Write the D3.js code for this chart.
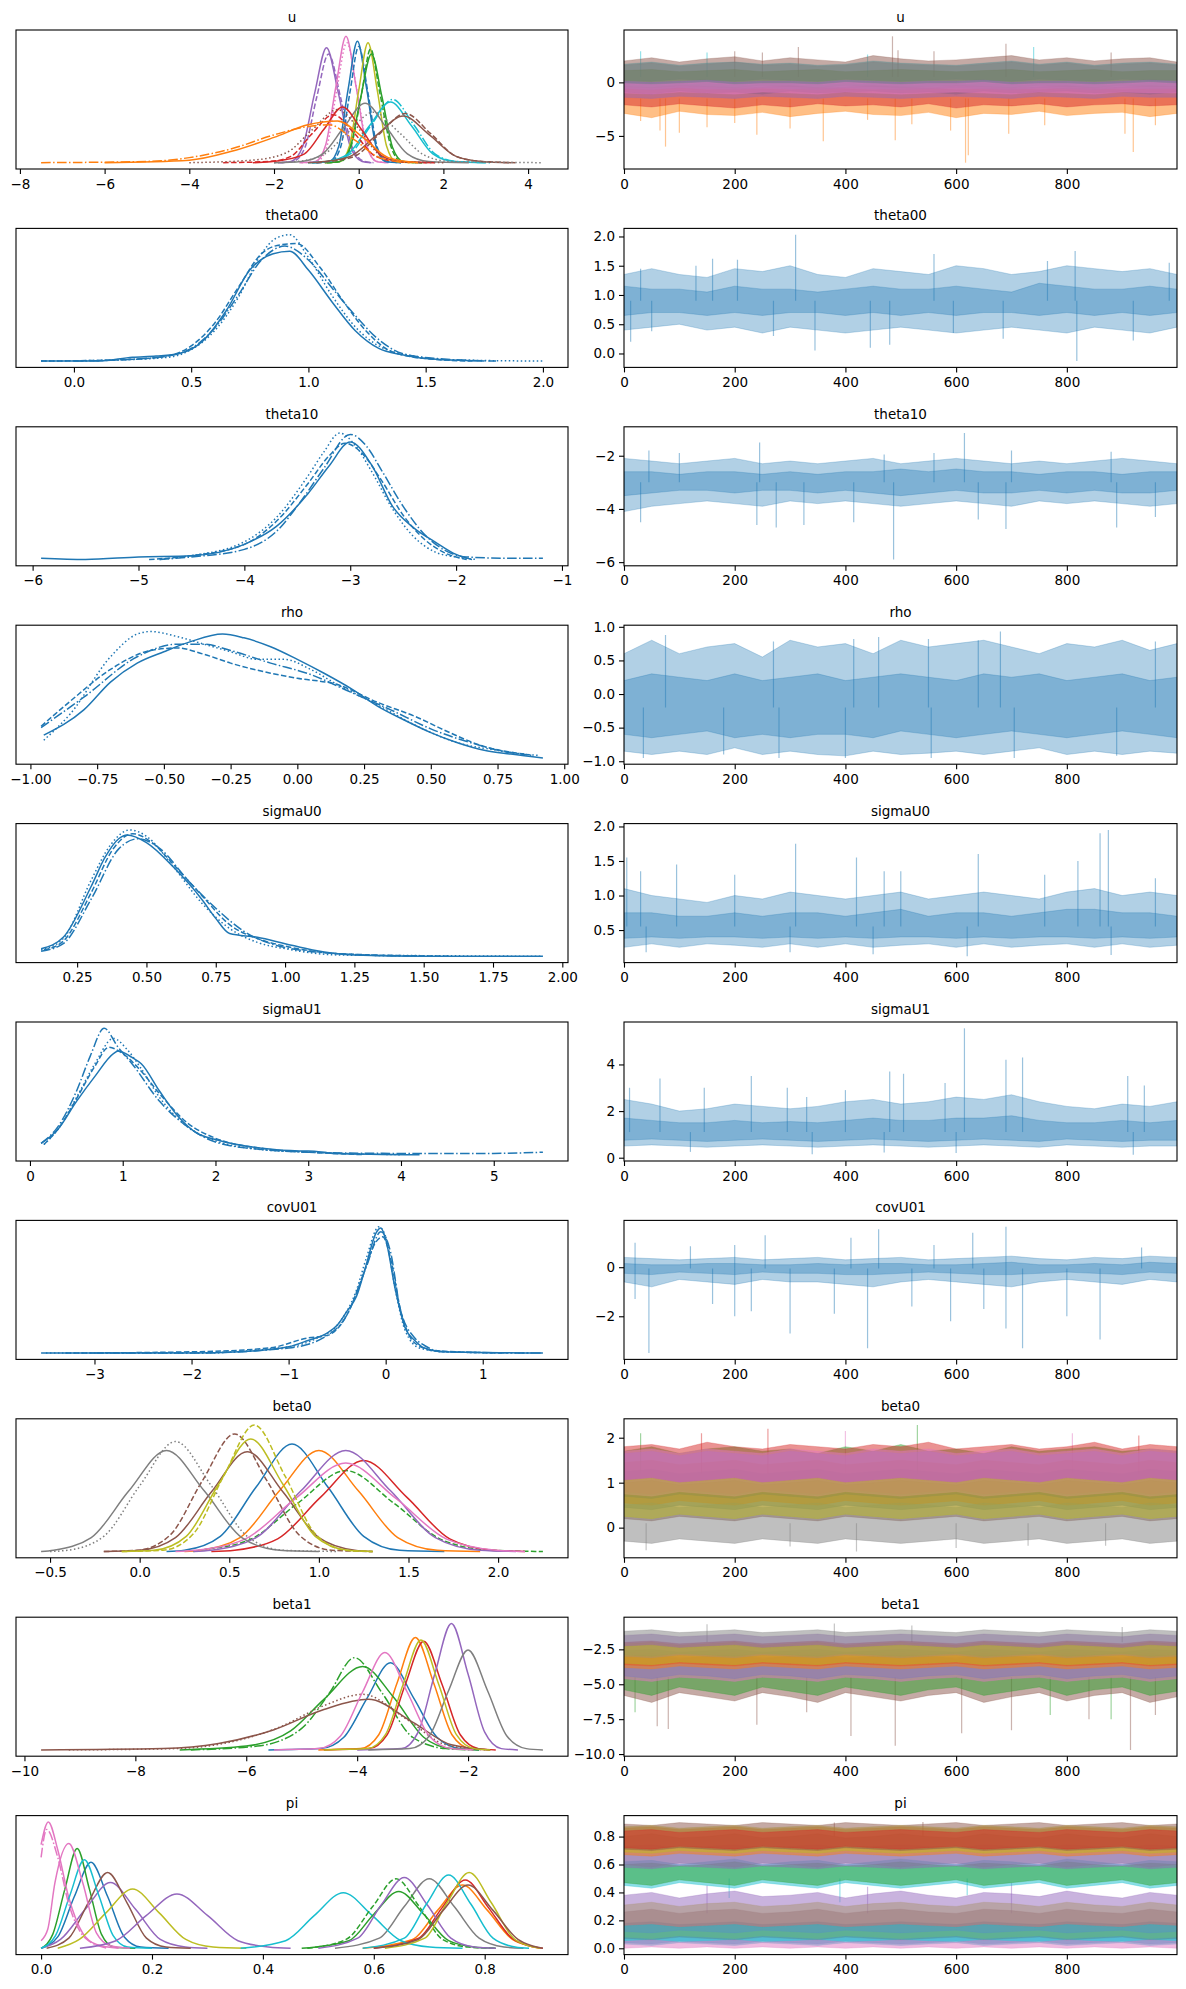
<!DOCTYPE html>
<html>
<head>
<meta charset="utf-8">
<script src="https://cdn.jsdelivr.net/npm/d3@7"></script>
<style>
body { margin: 0; background: #fff; }
text { font-family: "DejaVu Sans", sans-serif; font-size: 13.5px; fill: #000; }
</style>
</head>
<body>
<svg id="fig" width="1186" height="1989"></svg>
<script>
// matplotlib tab10 colours, arviz cycles through these
const tab10 = ["#1f77b4","#ff7f0e","#2ca02c","#d62728","#9467bd","#8c564b","#e377c2","#7f7f7f","#bcbd22","#17becf"];
const varNames = ["u","theta00","theta10","rho","sigmaU0","sigmaU1","covU01","beta0","beta1","pi"];

const draws = [0,50,100,150,200,250,300,350,400,450,500,550,600,650,700,750,800,850,900,950,999];

// ---- KDE curves: [colour, chain(linestyle), xs, density (relative)] ----
const kdeU = [
  [4,0,[-1.9,-1.6,-1.32,-1.04,-0.76,-0.48,-0.2,0.08,0.3],[0,0.01,0.13,0.55,0.91,0.55,0.13,0.01,0]],
  [4,1,[-1.85,-1.55,-1.27,-0.99,-0.71,-0.43,-0.15,0.13,0.35],[0,0.01,0.12,0.52,0.86,0.52,0.12,0.01,0]],
  [6,0,[-1.4,-1.02,-0.78,-0.54,-0.3,-0.06,0.18,0.42,0.7],[0,0.01,0.14,0.6,1,0.6,0.14,0.01,0]],
  [6,2,[-1.35,-0.98,-0.75,-0.52,-0.28,-0.04,0.2,0.44,0.7],[0,0.01,0.13,0.57,0.95,0.57,0.13,0.01,0]],
  [0,0,[-1.1,-0.69,-0.47,-0.25,-0.03,0.19,0.41,0.63,1.0],[0,0.01,0.13,0.58,0.96,0.58,0.13,0.01,0]],
  [0,1,[-1.0,-0.65,-0.43,-0.21,0.0,0.22,0.44,0.66,1.0],[0,0.01,0.12,0.55,0.92,0.55,0.12,0.01,0]],
  [8,0,[-0.8,-0.44,-0.22,0,0.22,0.44,0.66,0.88,1.3],[0,0.01,0.13,0.57,0.95,0.57,0.13,0.01,0]],
  [2,0,[-0.8,-0.45,-0.2,0.05,0.3,0.55,0.8,1.05,1.5],[0,0.01,0.12,0.52,0.86,0.52,0.12,0.01,0]],
  [2,1,[-0.75,-0.42,-0.18,0.07,0.28,0.5,0.76,1.0,1.5],[0,0.01,0.13,0.55,0.9,0.55,0.13,0.01,0]],
  [9,0,[-1.2,-0.75,-0.25,0.25,0.75,1.25,1.75,2.25,3.0],[0,0.01,0.07,0.29,0.48,0.29,0.07,0.01,0]],
  [9,3,[-1.1,-0.7,-0.2,0.3,0.8,1.3,1.8,2.3,3.1],[0,0.01,0.07,0.3,0.5,0.3,0.07,0.01,0]],
  [5,0,[-1.2,-0.8,-0.2,0.43,1.05,1.67,2.3,2.9,3.6],[0,0.01,0.05,0.22,0.37,0.22,0.05,0.01,0]],
  [5,1,[-1.0,-0.7,-0.1,0.5,1.1,1.7,2.3,2.9,3.7],[0,0.01,0.05,0.23,0.39,0.23,0.05,0.01,0]],
  [7,0,[-2,-1.35,-0.85,-0.35,0.15,0.65,1.15,1.65,2.6],[0,0.01,0.07,0.28,0.47,0.28,0.07,0.01,0]],
  [7,2,[-2,-1.45,-0.85,-0.25,0.35,0.95,1.55,2.15,4.35],[0,0.01,0.06,0.24,0.4,0.24,0.06,0.01,0]],
  [3,0,[-2.5,-1.8,-1.28,-0.83,-0.38,0.07,0.52,0.97,1.8],[0,0.02,0.07,0.26,0.44,0.26,0.06,0.01,0]],
  [3,1,[-3.2,-2.1,-1.6,-1.1,-0.6,-0.1,0.4,0.9,1.6],[0,0.01,0.05,0.23,0.38,0.23,0.05,0.01,0]],
  [5,2,[-4,-2.5,-1.7,-1.1,-0.5,0.0,0.5,1.0,2.0],[0,0.02,0.08,0.26,0.42,0.27,0.06,0.01,0]],
  [1,3,[-7.5,-5,-4,-3,-2,-1.3,-0.7,-0.1,0.5,1.2],[0,0.01,0.04,0.11,0.22,0.28,0.3,0.18,0.04,0]],
  [1,0,[-6,-4,-3,-2,-1.2,-0.5,0.1,0.7,1.4],[0,0.02,0.09,0.2,0.3,0.33,0.2,0.04,0]]
];
const kdeTheta00 = [
  [0,0,[-0.14,0.1,0.25,0.35,0.45,0.55,0.65,0.75,0.85,0.92,1.0,1.1,1.2,1.3,1.4,1.5,1.75],[0,0,0.03,0.04,0.06,0.16,0.4,0.72,0.85,0.87,0.72,0.47,0.24,0.1,0.05,0.02,0]],
  [0,1,[-0.14,0.2,0.4,0.5,0.6,0.7,0.8,0.88,0.95,1.05,1.15,1.25,1.35,1.5,1.7],[0,0.01,0.04,0.12,0.3,0.58,0.85,0.92,0.93,0.74,0.47,0.23,0.08,0.02,0]],
  [0,2,[-0.14,0.2,0.4,0.5,0.6,0.7,0.8,0.86,0.92,1.0,1.1,1.2,1.3,1.45,1.6,2.0],[0,0.01,0.03,0.09,0.24,0.5,0.85,0.97,1.0,0.82,0.52,0.27,0.12,0.04,0.01,0]],
  [0,3,[0.0,0.2,0.4,0.5,0.6,0.7,0.8,0.9,1.0,1.1,1.2,1.3,1.4,1.55,1.8],[0,0.01,0.04,0.1,0.26,0.52,0.8,0.91,0.8,0.58,0.36,0.17,0.06,0.02,0]]
];
const kdeTheta10 = [
  [0,0,[-5.92,-5.5,-5.0,-4.5,-4.0,-3.7,-3.4,-3.2,-3.0,-2.8,-2.6,-2.4,-2.2,-2.0,-1.85],[0.01,0,0.02,0.03,0.12,0.26,0.52,0.74,0.93,0.75,0.42,0.25,0.14,0.04,0]],
  [0,1,[-4.9,-4.5,-4.0,-3.7,-3.4,-3.2,-3.05,-2.9,-2.7,-2.5,-2.3,-2.1,-1.9],[0,0.03,0.12,0.3,0.6,0.82,0.92,0.85,0.62,0.35,0.16,0.05,0]],
  [0,2,[-4.8,-4.5,-4.0,-3.7,-3.4,-3.25,-3.1,-2.95,-2.8,-2.6,-2.4,-2.2,-2.0,-1.8],[0,0.03,0.14,0.33,0.66,0.85,1.0,0.9,0.7,0.4,0.18,0.06,0.02,0]],
  [0,3,[-4.8,-4.5,-4.0,-3.7,-3.45,-3.25,-3.0,-2.85,-2.7,-2.5,-2.3,-2.1,-1.9,-1.5,-1.18],[0,0.02,0.08,0.22,0.48,0.72,0.99,0.9,0.7,0.42,0.2,0.07,0.02,0.01,0.01]]
];
const kdeRho = [
  [0,0,[-0.95,-0.8,-0.7,-0.6,-0.5,-0.4,-0.28,-0.2,-0.1,0.0,0.1,0.2,0.3,0.4,0.5,0.6,0.7,0.8,0.92],[0.18,0.38,0.6,0.75,0.84,0.92,0.98,0.95,0.88,0.78,0.67,0.55,0.41,0.3,0.2,0.12,0.06,0.03,0]],
  [0,1,[-0.96,-0.85,-0.7,-0.55,-0.45,-0.35,-0.25,-0.1,0.0,0.15,0.3,0.45,0.55,0.7,0.85],[0.25,0.45,0.7,0.85,0.87,0.82,0.75,0.67,0.63,0.58,0.44,0.32,0.22,0.09,0.03]],
  [0,2,[-0.95,-0.85,-0.7,-0.6,-0.55,-0.45,-0.35,-0.25,-0.15,-0.05,0.05,0.15,0.3,0.45,0.6,0.75,0.88],[0.14,0.35,0.8,0.98,1.0,0.96,0.9,0.84,0.78,0.78,0.7,0.58,0.42,0.25,0.12,0.06,0.02]],
  [0,3,[-0.96,-0.8,-0.6,-0.45,-0.35,-0.25,-0.1,0.05,0.2,0.35,0.5,0.65,0.8,0.9],[0.24,0.48,0.8,0.9,0.9,0.85,0.75,0.66,0.52,0.38,0.23,0.12,0.04,0.02]]
];
const kdeSigmaU0 = [
  [0,0,[0.12,0.2,0.3,0.35,0.4,0.43,0.5,0.6,0.7,0.75,0.8,0.9,1.0,1.1,1.25,1.5,1.93],[0.06,0.15,0.55,0.78,0.93,0.96,0.9,0.7,0.45,0.3,0.18,0.15,0.1,0.05,0.01,0,0]],
  [0,1,[0.13,0.2,0.3,0.38,0.45,0.52,0.6,0.7,0.8,0.9,1.0,1.2,1.6],[0.05,0.12,0.5,0.85,0.97,0.9,0.72,0.48,0.25,0.14,0.08,0.02,0]],
  [0,2,[0.12,0.2,0.3,0.37,0.44,0.5,0.6,0.7,0.8,0.9,1.0,1.2,1.5,1.93],[0.05,0.14,0.6,0.88,1.0,0.95,0.7,0.42,0.22,0.11,0.06,0.01,0.005,0]],
  [0,3,[0.12,0.2,0.3,0.4,0.47,0.55,0.65,0.75,0.85,1.0,1.2,1.5],[0.04,0.1,0.45,0.85,0.93,0.85,0.6,0.38,0.2,0.07,0.02,0]]
];
const kdeSigmaU1 = [
  [0,0,[0.12,0.3,0.5,0.7,0.9,0.95,1.1,1.2,1.4,1.6,1.8,2.0,2.5,2.9,3.0,3.3,4.2],[0.09,0.2,0.42,0.62,0.8,0.82,0.77,0.72,0.5,0.3,0.17,0.12,0.05,0.03,0.03,0.01,0]],
  [0,1,[0.15,0.3,0.5,0.7,0.85,1.0,1.2,1.4,1.7,2.0,2.5,3.0,3.6],[0.08,0.2,0.44,0.7,0.85,0.8,0.66,0.48,0.25,0.13,0.05,0.02,0]],
  [0,2,[0.15,0.3,0.5,0.7,0.9,1.05,1.2,1.4,1.7,2.0,2.5,3.0,4.0],[0.08,0.2,0.45,0.72,0.92,0.83,0.68,0.45,0.22,0.11,0.04,0.02,0]],
  [0,3,[0.12,0.3,0.5,0.65,0.8,0.95,1.1,1.4,1.7,2.0,2.5,3.0,4.0,5.0,5.53],[0.09,0.22,0.5,0.78,1.0,0.85,0.72,0.42,0.22,0.1,0.04,0.02,0.01,0.01,0.02]]
];
const kdeCovU01 = [
  [0,0,[-3.55,-2,-1.5,-1.0,-0.8,-0.6,-0.5,-0.4,-0.3,-0.2,-0.1,-0.05,0.0,0.1,0.2,0.3,0.4,0.6,1.62],[0,0,0.01,0.05,0.1,0.16,0.22,0.33,0.45,0.7,0.95,0.99,0.9,0.5,0.2,0.1,0.04,0.01,0]],
  [0,1,[-3.3,-2,-1.2,-0.8,-0.6,-0.4,-0.25,-0.1,-0.03,0.05,0.15,0.3,0.5,1.2],[0,0.01,0.04,0.12,0.14,0.3,0.58,0.88,0.92,0.75,0.35,0.08,0.02,0]],
  [0,2,[-3.5,-2,-1.0,-0.7,-0.5,-0.3,-0.2,-0.07,0.0,0.1,0.2,0.35,0.6,1.5],[0,0,0.05,0.12,0.22,0.5,0.75,1.0,0.92,0.5,0.18,0.04,0.01,0]],
  [0,3,[-3.0,-2,-1.0,-0.6,-0.4,-0.2,-0.05,0.05,0.15,0.3,0.4,0.6,1.62],[0,0,0.04,0.14,0.3,0.68,0.96,0.8,0.35,0.12,0.06,0.01,0]]
];
const kdeBeta0 = [
  [0,0,[0.15,0.25,0.45,0.65,0.85,1.05,1.25,1.45,1.7],[0,0.01,0.12,0.51,0.85,0.51,0.12,0.01,0]],
  [1,0,[0.25,0.34,0.56,0.78,1.0,1.22,1.44,1.66,1.9],[0,0.01,0.11,0.48,0.8,0.48,0.11,0.01,0]],
  [2,1,[0.3,0.34,0.61,0.88,1.15,1.42,1.69,1.96,2.25],[0,0.01,0.09,0.38,0.64,0.38,0.09,0.01,0]],
  [3,0,[0.4,0.53,0.77,1.01,1.25,1.49,1.73,1.97,2.15],[0,0.01,0.1,0.43,0.72,0.43,0.1,0.01,0]],
  [4,0,[0.3,0.4,0.65,0.9,1.15,1.4,1.65,1.9,2.1],[0,0.01,0.11,0.48,0.8,0.48,0.11,0.01,0]],
  [5,0,[-0.2,0,0.2,0.4,0.6,0.8,1.0,1.2,1.3],[0,0.01,0.11,0.47,0.79,0.47,0.11,0.01,0]],
  [5,1,[-0.2,-0.01,0.17,0.35,0.53,0.71,0.89,1.07,1.3],[0,0.01,0.13,0.56,0.93,0.56,0.13,0.01,0]],
  [6,0,[0.2,0.31,0.59,0.87,1.15,1.43,1.71,1.99,2.15],[0,0.01,0.1,0.42,0.7,0.42,0.1,0.01,0]],
  [7,0,[-0.55,-0.48,-0.27,-0.06,0.15,0.36,0.57,0.78,1.0],[0,0.01,0.11,0.48,0.8,0.48,0.11,0.01,0]],
  [7,2,[-0.5,-0.4,-0.2,0,0.2,0.4,0.6,0.8,1.1],[0,0.01,0.12,0.52,0.87,0.52,0.12,0.01,0]],
  [8,0,[-0.1,0.08,0.26,0.44,0.62,0.8,0.98,1.16,1.3],[0,0.01,0.12,0.53,0.89,0.53,0.12,0.01,0]],
  [8,1,[-0.1,0.13,0.3,0.47,0.64,0.81,0.98,1.15,1.3],[0,0.01,0.14,0.6,1,0.6,0.14,0.01,0]]
];
const kdeBeta1 = [
  [0,0,[-5.6,-4.66,-4.24,-3.82,-3.4,-2.98,-2.56,-2.14,-1.8],[0,0.01,0.1,0.41,0.69,0.41,0.1,0.01,0]],
  [1,0,[-4.7,-3.94,-3.61,-3.28,-2.95,-2.62,-2.29,-1.96,-1.6],[0,0.01,0.12,0.53,0.89,0.53,0.12,0.01,0]],
  [2,0,[-7.2,-6,-5.2,-4.6,-3.9,-3.35,-2.8,-2.3,-1.8],[0,0.03,0.15,0.4,0.66,0.42,0.1,0.01,0]],
  [2,3,[-7.0,-5.8,-5.0,-4.5,-4.05,-3.55,-3.0,-2.4,-1.9],[0,0.03,0.17,0.45,0.73,0.45,0.1,0.01,0]],
  [3,0,[-4.6,-3.79,-3.46,-3.13,-2.8,-2.47,-2.14,-1.81,-1.5],[0,0.01,0.12,0.52,0.86,0.52,0.12,0.01,0]],
  [4,0,[-4,-3.2,-2.9,-2.6,-2.3,-2.0,-1.7,-1.4,-1.1],[0,0.01,0.14,0.6,1,0.6,0.14,0.01,0]],
  [5,0,[-9.7,-7.5,-6.5,-5.5,-4.6,-3.8,-3.0,-2.3,-1.6],[0,0.01,0.05,0.16,0.32,0.4,0.22,0.04,0]],
  [5,2,[-9.2,-7.3,-6.3,-5.4,-4.6,-3.9,-3.1,-2.4,-1.7],[0,0.01,0.06,0.18,0.35,0.44,0.24,0.04,0]],
  [6,0,[-5.5,-4.7,-4.3,-3.9,-3.5,-3.1,-2.7,-2.3,-1.9],[0,0.01,0.11,0.46,0.77,0.46,0.11,0.01,0]],
  [7,0,[-3.8,-3.05,-2.7,-2.35,-2.0,-1.65,-1.3,-0.95,-0.65],[0,0.01,0.11,0.47,0.79,0.47,0.11,0.01,0]],
  [8,0,[-4.6,-3.81,-3.49,-3.17,-2.85,-2.53,-2.21,-1.89,-1.6],[0,0.01,0.12,0.52,0.87,0.52,0.12,0.01,0]]
];
const kdePi = [
  [0,0,[0.0,0.03,0.06,0.09,0.12,0.15,0.18,0.23],[0,0.09,0.41,0.68,0.41,0.09,0.01,0]],
  [1,0,[0.58,0.67,0.715,0.76,0.805,0.85,0.88,0.9],[0,0.07,0.3,0.5,0.3,0.07,0.02,0]],
  [2,0,[0.0,0.021,0.043,0.065,0.087,0.109,0.131,0.17],[0,0.11,0.47,0.79,0.47,0.11,0.01,0]],
  [3,0,[0.6,0.681,0.723,0.765,0.807,0.849,0.88,0.905],[0,0.08,0.32,0.54,0.32,0.08,0.02,0]],
  [4,0,[0.0,0.035,0.08,0.125,0.17,0.215,0.26,0.3],[0,0.07,0.31,0.52,0.31,0.07,0.01,0]],
  [5,0,[0.01,0.05,0.085,0.12,0.155,0.19,0.225,0.27],[0,0.08,0.36,0.6,0.36,0.08,0.01,0]],
  [6,0,[0.0,0.013,0.03,0.05,0.075,0.1,0.14],[0.82,1.0,0.78,0.4,0.12,0.03,0]],
  [7,0,[0.53,0.61,0.655,0.7,0.745,0.79,0.835,0.87],[0,0.08,0.33,0.55,0.33,0.08,0.01,0]],
  [8,0,[0.03,0.069,0.117,0.165,0.213,0.261,0.31,0.37],[0,0.07,0.28,0.47,0.28,0.07,0.01,0]],
  [9,0,[0.0,0.026,0.052,0.078,0.104,0.13,0.156,0.2],[0,0.1,0.42,0.7,0.42,0.1,0.01,0]],
  [6,3,[0.0,0.01,0.03,0.05,0.08,0.12],[0.72,0.94,0.72,0.35,0.08,0]],
  [6,0,[0.0,0.012,0.025,0.05,0.075,0.1,0.125,0.16],[0.06,0.15,0.52,0.83,0.52,0.12,0.02,0]],
  [4,0,[0.07,0.135,0.19,0.245,0.3,0.355,0.41,0.45],[0,0.06,0.26,0.43,0.26,0.06,0.01,0]],
  [9,0,[0.36,0.441,0.493,0.545,0.597,0.649,0.701,0.76],[0,0.06,0.26,0.44,0.26,0.06,0.01,0]],
  [2,0,[0.47,0.555,0.6,0.645,0.69,0.735,0.78,0.82],[0,0.06,0.27,0.45,0.27,0.06,0.01,0]],
  [2,1,[0.48,0.55,0.598,0.64,0.682,0.724,0.77,0.82],[0,0.07,0.33,0.55,0.33,0.07,0.01,0]],
  [4,0,[0.5,0.571,0.613,0.655,0.697,0.739,0.781,0.82],[0,0.08,0.34,0.56,0.34,0.08,0.01,0]],
  [9,0,[0.58,0.655,0.695,0.735,0.775,0.815,0.855,0.88],[0,0.08,0.35,0.58,0.35,0.08,0.01,0]],
  [8,0,[0.62,0.692,0.732,0.772,0.812,0.852,0.88,0.9],[0,0.08,0.36,0.6,0.36,0.08,0.02,0]],
  [5,0,[0.6,0.68,0.725,0.77,0.815,0.86,0.885,0.905],[0,0.07,0.3,0.5,0.3,0.07,0.02,0]]
];

// ---- trace envelopes: [colour, upper edge at draws, lower edge at draws] ----
const bandsU = [
  [1,[-0.6,-0.7,-0.5,-0.7,-0.6,-0.6,-0.7,-0.5,-0.6,-0.7,-0.6,-0.5,-0.7,-0.6,-0.6,-0.7,-0.5,-0.6,-0.7,-0.6,-0.6],[-2.9,-3.3,-2.7,-3.0,-3.1,-2.8,-3.2,-2.9,-2.7,-3.0,-3.1,-2.8,-3.3,-2.9,-3.0,-2.7,-3.1,-2.9,-2.8,-3.2,-2.9]],
  [3,[-0.4,-0.5,-0.3,-0.4,-0.5,-0.4,-0.3,-0.5,-0.4,-0.3,-0.4,-0.5,-0.3,-0.4,-0.5,-0.4,-0.3,-0.5,-0.4,-0.3,-0.4],[-2.1,-2.3,-2.0,-2.2,-2.4,-2.1,-2.3,-2.0,-2.2,-2.1,-2.3,-2.0,-2.4,-2.1,-2.2,-2.0,-2.3,-2.1,-2.0,-2.2,-2.1]],
  [9,[1.7,1.9,1.6,1.8,1.9,1.7,1.8,1.6,1.7,2.0,1.8,1.7,1.6,1.8,2.0,1.7,1.9,1.6,1.8,1.9,1.7],[0.2,0.1,0.3,0.2,0.1,0.3,0.2,0.1,0.3,0.2,0.1,0.2,0.3,0.2,0.1,0.3,0.2,0.1,0.3,0.2,0.2]],
  [2,[1.1,1.2,1.0,1.1,1.2,1.0,1.1,1.2,1.0,1.1,1.2,1.1,1.0,1.1,1.2,1.0,1.1,1.2,1.0,1.1,1.1],[-0.4,-0.5,-0.3,-0.4,-0.5,-0.3,-0.4,-0.5,-0.3,-0.4,-0.5,-0.4,-0.3,-0.4,-0.5,-0.3,-0.4,-0.5,-0.3,-0.4,-0.4]],
  [5,[2.0,2.3,1.9,2.2,2.4,2.0,2.3,2.1,1.9,2.5,2.2,2.0,2.1,2.3,2.5,2.1,2.3,2.0,2.2,2.3,1.9],[-0.9,-1.1,-0.8,-1.0,-0.9,-1.1,-0.8,-1.0,-0.9,-0.8,-1.0,-0.9,-1.1,-0.8,-1.0,-0.9,-0.8,-1.0,-0.9,-1.1,-0.9]],
  [7,[1.6,1.8,1.5,1.7,1.9,1.6,1.7,1.5,1.6,1.9,1.7,1.6,1.5,1.7,1.9,1.6,1.8,1.5,1.7,1.8,1.6],[-0.6,-0.7,-0.5,-0.6,-0.7,-0.5,-0.6,-0.7,-0.5,-0.6,-0.7,-0.6,-0.5,-0.6,-0.7,-0.5,-0.6,-0.7,-0.5,-0.6,-0.6]],
  [4,[0.1,0.0,0.1,0.2,0.0,0.1,0.1,0.0,0.2,0.1,0.0,0.1,0.1,0.2,0.0,0.1,0.1,0.0,0.1,0.2,0.1],[-1.4,-1.5,-1.3,-1.4,-1.5,-1.3,-1.4,-1.5,-1.3,-1.4,-1.5,-1.4,-1.3,-1.4,-1.5,-1.3,-1.4,-1.5,-1.3,-1.4,-1.4]],
  [6,[-0.1,-0.2,-0.1,0.0,-0.2,-0.1,-0.1,-0.2,0.0,-0.1,-0.2,-0.1,-0.1,0.0,-0.2,-0.1,-0.1,-0.2,-0.1,0.0,-0.1],[-1.0,-1.1,-0.9,-1.0,-1.1,-0.9,-1.0,-1.1,-0.9,-1.0,-1.1,-1.0,-0.9,-1.0,-1.1,-0.9,-1.0,-1.1,-0.9,-1.0,-1.0]]
];
const bandsTheta00 = [
  [0,[1.35,1.45,1.35,1.3,1.45,1.4,1.5,1.35,1.3,1.45,1.4,1.35,1.5,1.45,1.35,1.4,1.5,1.45,1.4,1.45,1.35],[0.4,0.45,0.5,0.4,0.45,0.35,0.45,0.4,0.35,0.4,0.45,0.4,0.35,0.4,0.45,0.4,0.35,0.45,0.4,0.35,0.45]],
  [0,[1.15,1.1,1.1,1.05,1.15,1.1,1.1,1.05,1.1,1.15,1.1,1.1,1.15,1.1,1.05,1.2,1.15,1.1,1.1,1.15,1.1],[0.65,0.7,0.7,0.65,0.7,0.65,0.7,0.7,0.65,0.7,0.65,0.7,0.65,0.7,0.7,0.65,0.7,0.65,0.7,0.65,0.7]]
];
const bandsTheta10 = [
  [0,[-2.1,-2.2,-2.3,-2.2,-2.1,-2.3,-2.2,-2.3,-2.2,-2.1,-2.3,-2.2,-2.1,-2.2,-2.3,-2.2,-2.3,-2.2,-2.1,-2.2,-2.3],[-4.1,-3.9,-3.8,-3.7,-3.8,-3.9,-3.7,-3.8,-3.7,-3.8,-3.9,-3.8,-3.7,-3.8,-3.9,-3.7,-3.8,-3.7,-3.8,-3.9,-3.8]],
  [0,[-2.6,-2.6,-2.7,-2.6,-2.6,-2.7,-2.6,-2.7,-2.6,-2.6,-2.5,-2.6,-2.5,-2.6,-2.6,-2.7,-2.6,-2.6,-2.7,-2.6,-2.6],[-3.5,-3.4,-3.3,-3.3,-3.4,-3.3,-3.3,-3.4,-3.3,-3.4,-3.5,-3.4,-3.3,-3.4,-3.4,-3.3,-3.4,-3.3,-3.4,-3.4,-3.3]]
];
const bandsRho = [
  [0,[0.6,0.8,0.6,0.7,0.75,0.55,0.8,0.7,0.75,0.6,0.8,0.7,0.75,0.8,0.7,0.6,0.75,0.7,0.8,0.65,0.75],[-0.85,-0.9,-0.85,-0.9,-0.8,-0.9,-0.85,-0.9,-0.92,-0.85,-0.9,-0.88,-0.85,-0.9,-0.85,-0.8,-0.9,-0.85,-0.9,-0.85,-0.88]],
  [0,[0.2,0.3,0.25,0.2,0.3,0.2,0.25,0.3,0.2,0.25,0.3,0.25,0.2,0.3,0.25,0.3,0.2,0.25,0.3,0.2,0.25],[-0.6,-0.65,-0.6,-0.55,-0.65,-0.6,-0.65,-0.6,-0.6,-0.65,-0.55,-0.6,-0.65,-0.6,-0.55,-0.6,-0.65,-0.6,-0.55,-0.6,-0.65]]
];
const bandsSigmaU0 = [
  [0,[1.1,1.0,0.95,0.9,1.0,0.95,1.05,1.0,0.95,1.0,1.05,0.95,1.0,1.05,1.0,0.95,1.05,1.1,1.0,1.05,1.0],[0.25,0.3,0.25,0.3,0.28,0.25,0.3,0.25,0.3,0.25,0.28,0.3,0.25,0.3,0.25,0.28,0.3,0.25,0.3,0.25,0.28]],
  [0,[0.75,0.75,0.7,0.7,0.75,0.7,0.75,0.75,0.7,0.75,0.8,0.7,0.75,0.75,0.7,0.75,0.8,0.8,0.75,0.75,0.7],[0.38,0.4,0.38,0.4,0.4,0.38,0.4,0.38,0.4,0.38,0.4,0.4,0.38,0.4,0.38,0.4,0.4,0.38,0.4,0.38,0.4]]
];
const bandsSigmaU1 = [
  [0,[2.5,2.3,2.0,2.1,2.3,2.2,2.1,2.2,2.4,2.5,2.3,2.4,2.6,2.5,2.7,2.4,2.2,2.1,2.3,2.2,2.4],[0.5,0.55,0.5,0.45,0.5,0.55,0.5,0.45,0.5,0.55,0.5,0.45,0.5,0.55,0.5,0.45,0.55,0.5,0.45,0.5,0.5]],
  [0,[1.7,1.6,1.5,1.5,1.6,1.5,1.55,1.5,1.6,1.7,1.6,1.6,1.7,1.7,1.8,1.6,1.5,1.5,1.6,1.5,1.6],[0.75,0.8,0.75,0.7,0.75,0.8,0.75,0.7,0.75,0.8,0.75,0.7,0.75,0.8,0.75,0.7,0.8,0.75,0.7,0.75,0.75]]
];
const bandsCovU01 = [
  [0,[0.4,0.35,0.3,0.35,0.4,0.3,0.35,0.4,0.3,0.35,0.4,0.3,0.35,0.4,0.45,0.35,0.3,0.4,0.35,0.45,0.4],[-0.6,-0.8,-0.5,-0.6,-0.7,-0.5,-0.6,-0.6,-0.7,-0.8,-0.6,-0.5,-0.6,-0.7,-0.8,-0.6,-0.5,-0.6,-0.7,-0.5,-0.6]],
  [0,[0.15,0.1,0.1,0.15,0.15,0.1,0.1,0.15,0.1,0.15,0.15,0.1,0.1,0.15,0.2,0.1,0.1,0.15,0.1,0.2,0.15],[-0.25,-0.3,-0.2,-0.25,-0.3,-0.2,-0.25,-0.25,-0.3,-0.3,-0.25,-0.2,-0.25,-0.3,-0.3,-0.25,-0.2,-0.25,-0.3,-0.2,-0.25]]
];
const bandsBeta0 = [
  [0,[1.25,1.3,1.2,1.25,1.3,1.2,1.25,1.3,1.2,1.25,1.3,1.25,1.2,1.3,1.25,1.2,1.3,1.25,1.2,1.3,1.25],[0.45,0.4,0.5,0.45,0.4,0.5,0.45,0.4,0.5,0.45,0.4,0.45,0.5,0.4,0.45,0.5,0.4,0.45,0.5,0.4,0.45]],
  [1,[1.45,1.5,1.4,1.45,1.5,1.4,1.45,1.5,1.4,1.45,1.5,1.45,1.4,1.5,1.45,1.4,1.5,1.45,1.4,1.5,1.45],[0.55,0.5,0.6,0.55,0.5,0.6,0.55,0.5,0.6,0.55,0.5,0.55,0.6,0.5,0.55,0.6,0.5,0.55,0.6,0.5,0.55]],
  [2,[1.7,1.8,1.65,1.75,1.8,1.7,1.75,1.65,1.8,1.7,1.85,1.7,1.75,1.65,1.8,1.7,1.75,1.8,1.7,1.75,1.7],[0.7,0.65,0.75,0.7,0.65,0.75,0.7,0.65,0.75,0.7,0.65,0.7,0.75,0.65,0.7,0.75,0.65,0.7,0.75,0.65,0.7]],
  [3,[1.8,1.85,1.75,1.9,1.8,1.75,1.85,1.8,1.75,1.85,1.8,1.9,1.75,1.8,1.85,1.75,1.8,1.9,1.75,1.85,1.8],[0.8,0.75,0.85,0.8,0.75,0.85,0.8,0.75,0.85,0.8,0.75,0.8,0.85,0.75,0.8,0.85,0.75,0.8,0.85,0.75,0.8]],
  [4,[1.65,1.7,1.6,1.7,1.65,1.6,1.7,1.65,1.6,1.7,1.65,1.7,1.6,1.65,1.7,1.6,1.65,1.7,1.6,1.7,1.65],[0.7,0.65,0.75,0.7,0.65,0.75,0.7,0.65,0.75,0.7,0.65,0.7,0.75,0.65,0.7,0.75,0.65,0.7,0.75,0.65,0.7]],
  [5,[1.0,1.05,0.95,1.0,1.05,0.95,1.0,1.05,0.95,1.0,1.05,1.0,0.95,1.05,1.0,0.95,1.05,1.0,0.95,1.05,1.0],[0.2,0.15,0.25,0.2,0.15,0.25,0.2,0.15,0.25,0.2,0.15,0.2,0.25,0.15,0.2,0.25,0.15,0.2,0.25,0.15,0.2]],
  [6,[1.7,1.75,1.65,1.75,1.7,1.65,1.75,1.7,1.65,1.75,1.7,1.75,1.65,1.7,1.75,1.65,1.7,1.75,1.65,1.75,1.7],[0.75,0.7,0.8,0.75,0.7,0.8,0.75,0.7,0.8,0.75,0.7,0.75,0.8,0.7,0.75,0.8,0.7,0.75,0.8,0.7,0.75]],
  [7,[0.5,0.55,0.45,0.5,0.55,0.45,0.5,0.55,0.45,0.5,0.55,0.5,0.45,0.55,0.5,0.45,0.55,0.5,0.45,0.55,0.5],[-0.3,-0.35,-0.25,-0.3,-0.35,-0.25,-0.3,-0.35,-0.25,-0.3,-0.35,-0.3,-0.25,-0.35,-0.3,-0.25,-0.35,-0.3,-0.25,-0.35,-0.3]],
  [8,[1.05,1.1,1.0,1.05,1.1,1.0,1.05,1.1,1.0,1.05,1.1,1.05,1.0,1.1,1.05,1.0,1.1,1.05,1.0,1.1,1.05],[0.25,0.2,0.3,0.25,0.2,0.3,0.25,0.2,0.3,0.25,0.2,0.25,0.3,0.2,0.25,0.3,0.2,0.25,0.3,0.2,0.25]]
];
const bandsBeta1 = [
  [5,[-3.0,-2.9,-3.2,-3.0,-2.9,-3.2,-3.0,-2.9,-3.2,-3.0,-2.9,-3.0,-3.2,-2.9,-3.0,-3.2,-2.9,-3.0,-3.2,-2.9,-3.0],[-5.8,-6.3,-5.6,-5.9,-6.2,-5.6,-5.9,-6.3,-5.6,-5.9,-6.2,-5.8,-5.6,-6.3,-5.9,-5.6,-6.2,-5.8,-5.6,-6.3,-5.9]],
  [2,[-3.0,-2.8,-3.1,-3.0,-2.8,-3.1,-3.0,-2.8,-3.1,-3.0,-2.8,-3.0,-3.1,-2.8,-3.0,-3.1,-2.8,-3.0,-3.1,-2.8,-3.0],[-5.4,-5.8,-5.2,-5.5,-5.8,-5.2,-5.5,-5.8,-5.2,-5.5,-5.8,-5.4,-5.2,-5.8,-5.5,-5.2,-5.8,-5.4,-5.2,-5.8,-5.5]],
  [0,[-2.6,-2.5,-2.7,-2.6,-2.5,-2.7,-2.6,-2.5,-2.7,-2.6,-2.5,-2.6,-2.7,-2.5,-2.6,-2.7,-2.5,-2.6,-2.7,-2.5,-2.6],[-4.4,-4.6,-4.3,-4.4,-4.6,-4.3,-4.4,-4.6,-4.3,-4.4,-4.6,-4.4,-4.3,-4.6,-4.4,-4.3,-4.6,-4.4,-4.3,-4.6,-4.4]],
  [6,[-2.8,-2.7,-2.9,-2.8,-2.7,-2.9,-2.8,-2.7,-2.9,-2.8,-2.7,-2.8,-2.9,-2.7,-2.8,-2.9,-2.7,-2.8,-2.9,-2.7,-2.8],[-4.6,-4.8,-4.5,-4.6,-4.8,-4.5,-4.6,-4.8,-4.5,-4.6,-4.8,-4.6,-4.5,-4.8,-4.6,-4.5,-4.8,-4.6,-4.5,-4.8,-4.6]],
  [3,[-2.0,-1.9,-2.1,-2.0,-1.9,-2.1,-2.0,-1.9,-2.1,-2.0,-1.9,-2.0,-2.1,-1.9,-2.0,-2.1,-1.9,-2.0,-2.1,-1.9,-2.0],[-3.6,-3.7,-3.5,-3.6,-3.7,-3.5,-3.6,-3.7,-3.5,-3.6,-3.7,-3.6,-3.5,-3.7,-3.6,-3.5,-3.7,-3.6,-3.5,-3.7,-3.6]],
  [1,[-2.1,-2.0,-2.2,-2.1,-2.0,-2.2,-2.1,-2.0,-2.2,-2.1,-2.0,-2.1,-2.2,-2.0,-2.1,-2.2,-2.0,-2.1,-2.2,-2.0,-2.1],[-3.8,-3.9,-3.7,-3.8,-3.9,-3.7,-3.8,-3.9,-3.7,-3.8,-3.9,-3.8,-3.7,-3.9,-3.8,-3.7,-3.9,-3.8,-3.7,-3.9,-3.8]],
  [4,[-1.5,-1.4,-1.6,-1.5,-1.4,-1.6,-1.5,-1.4,-1.6,-1.5,-1.4,-1.5,-1.6,-1.4,-1.5,-1.6,-1.4,-1.5,-1.6,-1.4,-1.5],[-3.0,-3.1,-2.9,-3.0,-3.1,-2.9,-3.0,-3.1,-2.9,-3.0,-3.1,-3.0,-2.9,-3.1,-3.0,-2.9,-3.1,-3.0,-2.9,-3.1,-3.0]],
  [7,[-1.2,-1.1,-1.3,-1.2,-1.1,-1.3,-1.2,-1.1,-1.3,-1.2,-1.1,-1.2,-1.3,-1.1,-1.2,-1.3,-1.1,-1.2,-1.3,-1.1,-1.2],[-2.9,-3.0,-2.8,-2.9,-3.0,-2.8,-2.9,-3.0,-2.8,-2.9,-3.0,-2.9,-2.8,-3.0,-2.9,-2.8,-3.0,-2.9,-2.8,-3.0,-2.9]],
  [8,[-2.3,-2.2,-2.4,-2.3,-2.2,-2.4,-2.3,-2.2,-2.4,-2.3,-2.2,-2.3,-2.4,-2.2,-2.3,-2.4,-2.2,-2.3,-2.4,-2.2,-2.3],[-3.5,-3.6,-3.4,-3.5,-3.6,-3.4,-3.5,-3.6,-3.4,-3.5,-3.6,-3.5,-3.4,-3.6,-3.5,-3.4,-3.6,-3.5,-3.4,-3.6,-3.5]]
];
const bandsPi = [
  [0,[0.18,0.19,0.17,0.18,0.19,0.17,0.18,0.19,0.17,0.18,0.19,0.18,0.17,0.19,0.18,0.17,0.19,0.18,0.17,0.19,0.18],[0.04,0.03,0.05,0.04,0.03,0.05,0.04,0.03,0.05,0.04,0.03,0.04,0.05,0.03,0.04,0.05,0.03,0.04,0.05,0.03,0.04]],
  [5,[0.26,0.28,0.25,0.27,0.28,0.25,0.26,0.28,0.25,0.27,0.28,0.26,0.25,0.28,0.27,0.25,0.28,0.26,0.25,0.28,0.26],[0.07,0.06,0.08,0.07,0.06,0.08,0.07,0.06,0.08,0.07,0.06,0.07,0.08,0.06,0.07,0.08,0.06,0.07,0.08,0.06,0.07]],
  [8,[0.31,0.33,0.3,0.32,0.33,0.3,0.31,0.33,0.3,0.32,0.33,0.31,0.3,0.33,0.32,0.3,0.33,0.31,0.3,0.33,0.31],[0.08,0.07,0.09,0.08,0.07,0.09,0.08,0.07,0.09,0.08,0.07,0.08,0.09,0.07,0.08,0.09,0.07,0.08,0.09,0.07,0.08]],
  [4,[0.38,0.4,0.36,0.39,0.41,0.37,0.38,0.4,0.36,0.39,0.41,0.38,0.36,0.4,0.39,0.37,0.41,0.38,0.36,0.4,0.38],[0.12,0.11,0.13,0.12,0.11,0.13,0.12,0.11,0.13,0.12,0.11,0.12,0.13,0.11,0.12,0.13,0.11,0.12,0.13,0.11,0.12]],
  [9,[0.16,0.17,0.15,0.16,0.17,0.15,0.16,0.17,0.15,0.16,0.17,0.16,0.15,0.17,0.16,0.15,0.17,0.16,0.15,0.17,0.16],[0.03,0.02,0.04,0.03,0.02,0.04,0.03,0.02,0.04,0.03,0.02,0.03,0.04,0.02,0.03,0.04,0.02,0.03,0.04,0.02,0.03]],
  [6,[0.05,0.06,0.045,0.05,0.06,0.045,0.05,0.06,0.045,0.05,0.06,0.05,0.045,0.06,0.05,0.045,0.06,0.05,0.045,0.06,0.05],[0.0,0.01,0.0,0.01,0.0,0.01,0.0,0.01,0.0,0.01,0.0,0.01,0.0,0.01,0.0,0.01,0.0,0.01,0.0,0.01,0.0]],
  [9,[0.62,0.63,0.6,0.62,0.64,0.6,0.62,0.63,0.6,0.62,0.64,0.62,0.6,0.63,0.62,0.6,0.64,0.62,0.6,0.63,0.62],[0.45,0.43,0.47,0.45,0.43,0.47,0.45,0.43,0.47,0.45,0.43,0.45,0.47,0.43,0.45,0.47,0.43,0.45,0.47,0.43,0.45]],
  [2,[0.6,0.61,0.59,0.6,0.62,0.59,0.6,0.61,0.59,0.6,0.62,0.6,0.59,0.61,0.6,0.59,0.62,0.6,0.59,0.61,0.6],[0.47,0.45,0.49,0.47,0.45,0.49,0.47,0.45,0.49,0.47,0.45,0.47,0.49,0.45,0.47,0.49,0.45,0.47,0.49,0.45,0.47]],
  [7,[0.8,0.82,0.79,0.8,0.82,0.79,0.8,0.82,0.79,0.8,0.82,0.8,0.79,0.82,0.8,0.79,0.82,0.8,0.79,0.82,0.8],[0.6,0.58,0.61,0.6,0.58,0.61,0.6,0.58,0.61,0.6,0.58,0.6,0.61,0.58,0.6,0.61,0.58,0.6,0.61,0.58,0.6]],
  [4,[0.73,0.74,0.72,0.73,0.74,0.72,0.73,0.74,0.72,0.73,0.74,0.73,0.72,0.74,0.73,0.72,0.74,0.73,0.72,0.74,0.73],[0.58,0.57,0.59,0.58,0.57,0.59,0.58,0.57,0.59,0.58,0.57,0.58,0.59,0.57,0.58,0.59,0.57,0.58,0.59,0.57,0.58]],
  [1,[0.86,0.87,0.85,0.86,0.87,0.85,0.86,0.87,0.85,0.86,0.87,0.86,0.85,0.87,0.86,0.85,0.87,0.86,0.85,0.87,0.86],[0.67,0.66,0.68,0.67,0.66,0.68,0.67,0.66,0.68,0.67,0.66,0.67,0.68,0.66,0.67,0.68,0.66,0.67,0.68,0.66,0.67]],
  [8,[0.87,0.88,0.86,0.87,0.88,0.86,0.87,0.88,0.86,0.87,0.88,0.87,0.86,0.88,0.87,0.86,0.88,0.87,0.86,0.88,0.87],[0.69,0.68,0.7,0.69,0.68,0.7,0.69,0.68,0.7,0.69,0.68,0.69,0.7,0.68,0.69,0.7,0.68,0.69,0.7,0.68,0.69]],
  [5,[0.89,0.88,0.9,0.89,0.88,0.9,0.89,0.88,0.9,0.89,0.88,0.89,0.9,0.88,0.89,0.9,0.88,0.89,0.9,0.88,0.89],[0.71,0.7,0.72,0.71,0.7,0.72,0.71,0.7,0.72,0.71,0.7,0.71,0.72,0.7,0.71,0.72,0.7,0.71,0.72,0.7,0.71]],
  [3,[0.84,0.85,0.83,0.84,0.85,0.83,0.84,0.85,0.83,0.84,0.85,0.84,0.83,0.85,0.84,0.83,0.85,0.84,0.83,0.85,0.84],[0.72,0.71,0.73,0.72,0.71,0.73,0.72,0.71,0.73,0.72,0.71,0.72,0.73,0.71,0.72,0.73,0.71,0.72,0.73,0.71,0.72]]
];

// ---- isolated excursions in the traces: [draw, from, to, colour] ----
const spikesU = [[75,-1.5,-6.0,1],[100,-1.5,-4.7,1],[65,-1.5,-4.5,1],[240,-1.5,-4.9,1],[300,-1.5,-4.3,1],[360,-1.5,-5.5,1],[490,-1.5,-5.4,1],[590,-1.5,-4.5,1],[617,-1.5,-7.5,1],[622,-1.5,-6.8,1],[695,-1.5,-4.8,1],[920,-1.5,-6.5,1],[905,-1.5,-4.8,1],[960,-1.5,-4.0,1],[440,-1.5,-3.5,1],[150,-1.5,-4.2,1],[760,-1.5,-4.0,1],[30,-1.5,-3.6,1],[200,-1.5,-3.8,1],[520,-1.5,-3.9,1],
  [485,0.5,4.3,5],[495,0.5,3.0,5],[690,0.5,3.6,5],[740,0.5,3.3,9],[30,0.5,2.9,9],[315,0.5,3.3,5],[200,0.5,2.9,5],[250,0.5,2.8,5],[560,0.5,2.9,5],[880,0.5,2.8,5],[150,0.5,2.8,9],[440,0.5,2.6,9]];
const spikesTheta00 = [[310,0.9,2.03,0],[815,0.9,1.75,0],[560,0.9,1.7,0],[205,0.9,1.6,0],[160,0.9,1.62,0],[765,0.9,1.58,0],[985,0.9,1.55,0],[130,0.9,1.5,0],[30,0.9,1.45,0],[12,0.9,0.2,0],[818,0.9,-0.13,0],[345,0.9,0.05,0],[445,0.9,0.1,0],[480,0.9,0.15,0],[920,0.9,0.22,0],[270,0.9,0.3,0],[685,0.9,0.25,0],[50,0.9,0.38,0],[595,0.9,0.35,0]];
const spikesTheta10 = [[615,-3,-1.15,0],[245,-3,-1.5,0],[100,-3,-1.9,0],[45,-3,-1.8,0],[700,-3,-1.8,0],[880,-3,-1.85,0],[560,-3,-1.9,0],[470,-3,-1.95,0],[487,-3,-5.9,0],[30,-3,-4.5,0],[240,-3,-4.6,0],[275,-3,-4.7,0],[690,-3,-4.75,0],[890,-3,-4.7,0],[415,-3,-4.5,0],[325,-3,-4.6,0],[960,-3,-4.3,0],[640,-3,-4.4,0]];
const spikesRho = [[75,-0.2,0.88,0],[680,-0.2,0.93,0],[460,-0.2,0.85,0],[550,-0.2,0.82,0],[960,-0.2,0.78,0],[640,-0.2,0.8,0],[415,-0.2,0.82,0],[270,-0.2,0.78,0],[280,-0.2,-0.95,0],[400,-0.2,-0.95,0],[555,-0.2,-0.95,0],[705,-0.2,-0.95,0],[35,-0.2,-0.95,0],[180,-0.2,-0.9,0],[890,-0.2,-0.92,0]];
const spikesSigmaU0 = [[5,0.55,1.55,0],[30,0.55,1.35,0],[95,0.55,1.45,0],[200,0.55,1.3,0],[310,0.55,1.75,0],[420,0.55,1.55,0],[470,0.55,1.35,0],[500,0.55,1.35,0],[640,0.55,1.6,0],[760,0.55,1.3,0],[820,0.55,1.5,0],[860,0.55,1.9,0],[875,0.55,1.95,0],[960,0.55,1.25,0],[620,0.55,0.12,0],[450,0.55,0.15,0],[880,0.55,0.14,0],[40,0.55,0.18,0],[300,0.55,0.18,0]];
const spikesSigmaU1 = [[615,1.1,5.55,0],[720,1.1,4.3,0],[690,1.1,4.2,0],[480,1.1,3.7,0],[505,1.1,3.6,0],[230,1.1,3.5,0],[65,1.1,3.4,0],[10,1.1,3.0,0],[295,1.1,3.0,0],[910,1.1,3.5,0],[940,1.1,3.1,0],[580,1.1,3.2,0],[145,1.1,3.0,0],[400,1.1,2.9,0],[330,1.1,2.6,0],[920,1.1,0.13,0],[340,1.1,0.15,0],[600,1.1,0.2,0],[120,1.1,0.25,0],[470,1.1,0.22,0]];
const spikesCovU01 = [[690,-0.05,1.65,0],[460,-0.05,1.55,0],[255,-0.05,1.3,0],[410,-0.05,1.2,0],[630,-0.05,1.4,0],[200,-0.05,0.9,0],[20,-0.05,1.0,0],[935,-0.05,0.8,0],[120,-0.05,0.85,0],[560,-0.05,0.9,0],[45,-0.05,-3.5,0],[440,-0.05,-3.3,0],[720,-0.05,-3.3,0],[860,-0.05,-2.95,0],[300,-0.05,-2.7,0],[690,-0.05,-2.5,0],[590,-0.05,-2.2,0],[200,-0.05,-2.0,0],[800,-0.05,-2.0,0],[520,-0.05,-1.6,0],[20,-0.05,-1.3,0],[230,-0.05,-1.8,0],[380,-0.05,-1.9,0],[650,-0.05,-1.7,0],[160,-0.05,-1.5,0]];
const spikesBeta0 = [[530,1.2,2.28,2],[260,1.2,2.2,3],[400,1.2,2.15,6],[140,1.2,2.1,3],[30,1.2,2.1,2],[810,1.2,2.1,6],[930,1.2,2.05,3],[420,0.1,-0.53,7],[40,0.1,-0.5,7],[600,0.1,-0.45,7],[300,0.1,-0.42,7],[730,0.1,-0.4,7],[870,0.1,-0.4,7]];
const spikesBeta1 = [[915,-4.5,-9.7,5],[490,-4.5,-9.4,5],[410,-4.5,-8.7,5],[610,-4.5,-8.5,5],[700,-4.5,-8.3,5],[60,-4.5,-8.0,5],[80,-4.5,-8.2,5],[240,-4.5,-7.9,5],[880,-4.5,-7.5,2],[960,-4.5,-7.2,5],[840,-4.5,-7.5,5],[20,-4.5,-7.0,2],[330,-4.5,-7.0,5],[770,-4.5,-7.2,2],[150,-2,-0.7,7],[380,-2,-0.65,7],[520,-2,-0.8,7],[900,-2,-0.9,7]];
const spikesPi = [[190,0.5,0.36,9],[620,0.5,0.38,9],[390,0.5,0.33,9],[150,0.25,0.45,4],[440,0.25,0.44,4],[700,0.25,0.47,4],[540,0.8,0.905,5],[380,0.8,0.9,5]];

// tick values as matplotlib placed them
const kdeTicks = [[-8,-6,-4,-2,0,2,4],[0,0.5,1,1.5,2],[-6,-5,-4,-3,-2,-1],[-1,-0.75,-0.5,-0.25,0,0.25,0.5,0.75,1],[0.25,0.5,0.75,1,1.25,1.5,1.75,2],[0,1,2,3,4,5],[-3,-2,-1,0,1],[-0.5,0,0.5,1,1.5,2],[-10,-8,-6,-4,-2],[0,0.2,0.4,0.6,0.8]];
const kdeTickDec = [0,1,0,2,2,0,0,1,0,1];
const traceYTicks = [[-5,0],[0,0.5,1,1.5,2],[-6,-4,-2],[-1,-0.5,0,0.5,1],[0.5,1,1.5,2],[0,2,4],[-2,0],[0,1,2],[-10,-7.5,-5,-2.5],[0,0.2,0.4,0.6,0.8]];
const traceYDec = [0,1,0,1,1,0,0,0,1,1];
const traceXTicks = [0,200,400,600,800];

const kdes = [kdeU,kdeTheta00,kdeTheta10,kdeRho,kdeSigmaU0,kdeSigmaU1,kdeCovU01,kdeBeta0,kdeBeta1,kdePi];
const bands = [bandsU,bandsTheta00,bandsTheta10,bandsRho,bandsSigmaU0,bandsSigmaU1,bandsCovU01,bandsBeta0,bandsBeta1,bandsPi];
const spikes = [spikesU,spikesTheta00,spikesTheta10,spikesRho,spikesSigmaU0,spikesSigmaU1,spikesCovU01,spikesBeta0,spikesBeta1,spikesPi];

// ---- layout ----
const svg = d3.select("#fig");
const rowTop = i => 30 + i * 198.4;
const axH = 139;
const leftX = [16, 568], rightX = [624, 1177];
const dashes = [null, "5.5,2.4", "1.5,2.5", "9.6,2.4,1.5,2.4"];
const pad = (lo, hi) => [lo - 0.05 * (hi - lo), hi + 0.05 * (hi - lo)];

function styleAxis(g) {
  g.attr("font-family", null).attr("font-size", null);
  g.select(".domain").remove();
  g.selectAll(".tick line").attr("stroke", "#000").attr("stroke-width", 1.1);
  g.selectAll(".tick text").attr("fill", "#000");
}

function frame(x0, x1, top, name, id) {
  svg.append("clipPath").attr("id", id).append("rect")
    .attr("x", x0).attr("y", top).attr("width", x1 - x0).attr("height", axH);
  svg.append("text").attr("x", (x0 + x1) / 2).attr("y", top - 8)
    .attr("text-anchor", "middle").text(name);
}

varNames.forEach((name, i) => {
  const top = rowTop(i), bot = top + axH;

  // --- left: density ---
  const curves = kdes[i];
  const xExt = d3.extent(curves.flatMap(c => c[2]));
  const yMax = d3.max(curves.flatMap(c => c[3]));
  const x = d3.scaleLinear().domain(pad(xExt[0], xExt[1])).range(leftX);
  const y = d3.scaleLinear().domain(pad(0, yMax)).range([bot, top]);
  frame(leftX[0], leftX[1], top, name, "cl" + i);
  const line = d3.line().x(d => x(d[0])).y(d => y(d[1])).curve(d3.curveMonotoneX);
  const gk = svg.append("g").attr("clip-path", `url(#cl${i})`);
  curves.forEach(c => {
    gk.append("path")
      .attr("d", line(c[2].map((v, k) => [v, c[3][k]])))
      .attr("fill", "none").attr("stroke", tab10[c[0]])
      .attr("stroke-width", 1.5)
      .attr("stroke-dasharray", dashes[c[1]]);
  });
  svg.append("g").attr("transform", `translate(0,${bot})`)
    .call(d3.axisBottom(x).tickValues(kdeTicks[i]).tickSize(5).tickPadding(5)
      .tickFormat(d3.format(`.${kdeTickDec[i]}f`)))
    .call(styleAxis);
  svg.append("rect").attr("x", leftX[0]).attr("y", top)
    .attr("width", leftX[1] - leftX[0]).attr("height", axH)
    .attr("fill", "none").attr("stroke", "#000").attr("stroke-width", 1.1);

  // --- right: trace ---
  const bs = bands[i], sp = spikes[i];
  const vals = bs.flatMap(b => b[1].concat(b[2])).concat(sp.map(s => s[2]));
  const tExt = d3.extent(vals);
  const xt = d3.scaleLinear().domain([0, 999]).range(rightX);
  const yt = d3.scaleLinear().domain(pad(tExt[0], tExt[1])).range([bot, top]);
  frame(rightX[0], rightX[1], top, name, "cr" + i);
  const gt = svg.append("g").attr("clip-path", `url(#cr${i})`);
  const area = d3.area().x(d => xt(d[0])).y0(d => yt(d[2])).y1(d => yt(d[1]));
  const single = bs.every(b => b[0] === bs[0][0]);
  sp.forEach(s => {
    gt.append("line")
      .attr("x1", xt(s[0])).attr("x2", xt(s[0]))
      .attr("y1", yt(s[1])).attr("y2", yt(s[2]))
      .attr("stroke", tab10[s[3]]).attr("stroke-opacity", 0.45).attr("stroke-width", 1.2);
  });
  bs.forEach(b => {
    gt.append("path")
      .attr("d", area(draws.map((dr, k) => [dr, b[1][k], b[2][k]])))
      .attr("fill", tab10[b[0]])
      .attr("fill-opacity", single ? 0.35 : 0.5)
      .attr("stroke", tab10[b[0]]).attr("stroke-opacity", 0.25).attr("stroke-width", 1);
  });
  svg.append("g").attr("transform", `translate(0,${bot})`)
    .call(d3.axisBottom(xt).tickValues(traceXTicks).tickSize(5).tickPadding(5).tickFormat(d3.format("d")))
    .call(styleAxis);
  svg.append("g").attr("transform", `translate(${rightX[0]},0)`)
    .call(d3.axisLeft(yt).tickValues(traceYTicks[i]).tickSize(5).tickPadding(4)
      .tickFormat(d3.format(`.${traceYDec[i]}f`)))
    .call(styleAxis);
  svg.append("rect").attr("x", rightX[0]).attr("y", top)
    .attr("width", rightX[1] - rightX[0]).attr("height", axH)
    .attr("fill", "none").attr("stroke", "#000").attr("stroke-width", 1.1);
});
</script>
</body>
</html>
